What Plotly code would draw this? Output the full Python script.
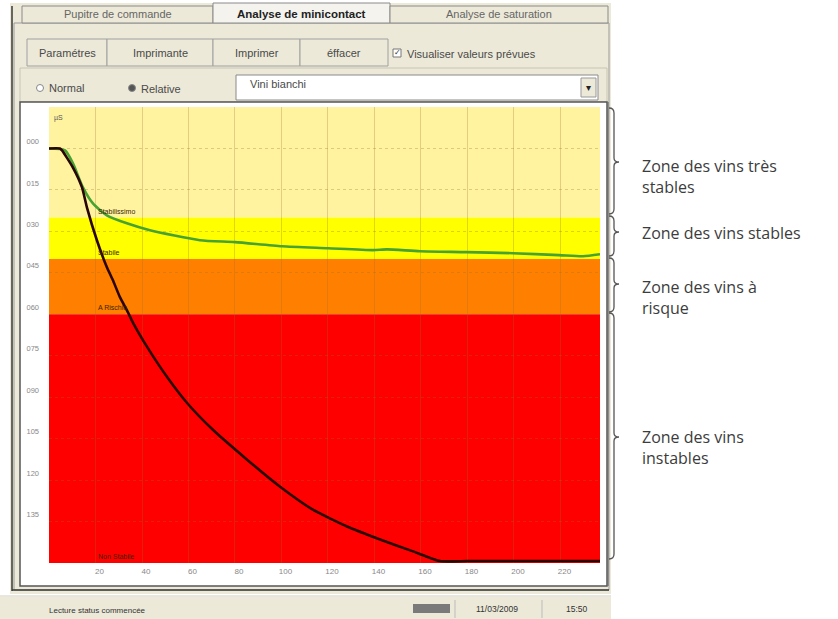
import plotly.graph_objects as go

# ---------------- data ----------------
time_measured = [0, 4.7, 5.6, 10.3, 14.2, 16.3, 20.6, 24.9, 27.5, 30.5, 33.5, 36.1, 42.2,
                 50.8, 59.4, 70.5, 85.2, 99.4, 113.5, 128.2, 142.4, 156.6, 168.2, 180, 200, 220, 237]
value_measured = [0, 0, -0.7, -6.9, -14.1, -21.3, -33.2, -43.0, -47.7, -53.8, -58.5, -63.0, -71.8,
                  -82.7, -92.1, -101.8, -112.6, -122.4, -130.7, -136.8, -141.5, -145.8, -149.3,
                  -149.3, -149.3, -149.3, -149.3]

time_predicted = [0, 6.9, 10.3, 14.6, 18.9, 24.9, 33.5, 43.4, 64.9, 80, 100.2, 120, 139.4,
                  145.4, 159.6, 179.4, 199.6, 219.4, 229.7, 237]
value_predicted = [0, -0.7, -5.4, -14.1, -19.9, -24.2, -27.1, -29.6, -33.2, -33.9, -35.4, -36.1,
                   -36.8, -36.5, -37.2, -37.5, -37.9, -38.6, -39.0, -38.3]

zone_tops = [15, -25, -40, -60]
zone_bottoms = [-25, -40, -60, -150]
zone_names = ["Stabilissimo", "Stabile", "A Rischio", "Non Stabile"]
zone_notes = ["Zone des vins très<br>stables", "Zone des vins stables",
              "Zone des vins à<br>risque", "Zone des vins<br>instables"]

x_ticks = [20, 40, 60, 80, 100, 120, 140, 160, 180, 200, 220]
y_ticks = [0, -15, -30, -45, -60, -75, -90, -105, -120, -135]
y_tick_text = ["000", "015", "030", "045", "060", "075", "090", "105", "120", "135"]

tab_labels = ["Pupitre de commande", "Analyse de minicontact", "Analyse de saturation"]
button_labels = ["Paramétres", "Imprimante", "Imprimer", "éffacer"]
check_label = "Visualiser valeurs prévues"
radio_labels = ["Normal", "Relative"]
wine_type = "Vini bianchi"
status_texts = ["Lecture status commencée", "11/03/2009", "15:50"]
unit_label = "µS"

# ---------------- styles ----------------
zone_colors = ["#FFF3A0", "#FFFF00", "#FF8000", "#FF0000"]
UI_BG = "#ECE9D8"
UI_TXT = "#4a4a4a"
FONT = "Liberation Sans"

L, R, T, B = 49, 600, 107, 563
W, H = 838, 619


def px(x):
    return (x - L) / (R - L)


def py(y):
    return (B - y) / (B - T)


shapes = []
annotations = []


def rect(x0, y0, x1, y1, fill=None, line=None, lw=1, layer="below"):
    shapes.append(dict(type="rect", xref="paper", yref="paper",
                       x0=px(x0), x1=px(x1), y0=py(y1), y1=py(y0),
                       fillcolor=fill if fill else "rgba(0,0,0,0)",
                       line=dict(color=line if line else "rgba(0,0,0,0)", width=lw if line else 0),
                       layer=layer))


def seg(x0, y0, x1, y1, color, lw=1, layer="below"):
    shapes.append(dict(type="line", xref="paper", yref="paper",
                       x0=px(x0), x1=px(x1), y0=py(y0), y1=py(y1),
                       line=dict(color=color, width=lw), layer=layer))


def circ(cx, cy, r, fill, line):
    shapes.append(dict(type="circle", xref="paper", yref="paper",
                       x0=px(cx - r), x1=px(cx + r), y0=py(cy + r), y1=py(cy - r),
                       fillcolor=fill, line=dict(color=line, width=1), layer="above"))


def text(x, y, s, size=11, color=UI_TXT, anchor="left", bold=False, family=FONT):
    if bold:
        s = "<b>" + s + "</b>"
    annotations.append(dict(xref="paper", yref="paper", x=px(x), y=py(y), text=s,
                            showarrow=False, xanchor=anchor, yanchor="middle",
                            font=dict(size=size, color=color, family=family)))


def brace(xv, y0, y1, ym, color="#555555"):
    path = (f"M {px(xv - 5)},{py(y0)} Q {px(xv)},{py(y0)} {px(xv)},{py(y0 + 5)} "
            f"L {px(xv)},{py(ym - 4)} Q {px(xv)},{py(ym)} {px(xv + 5)},{py(ym)} "
            f"Q {px(xv)},{py(ym)} {px(xv)},{py(ym + 4)} "
            f"L {px(xv)},{py(y1 - 5)} Q {px(xv)},{py(y1)} {px(xv - 5)},{py(y1)}")
    shapes.append(dict(type="path", xref="paper", yref="paper", path=path,
                       line=dict(color=color, width=1.3), layer="above"))


# ---------------- window / UI ----------------
rect(10, 3, 611, 594, fill=UI_BG)
rect(14, 23, 609, 590, line="#9a9a9a")
seg(12, 6, 12, 591, "#3a3a3a", 1.5)
seg(12, 590, 609, 590, "#3a3a3a", 1.5)

# tabs
tab_x = [(22, 213), (213, 390), (390, 608)]
for i, (a, b) in enumerate(tab_x):
    top = 3 if i == 1 else 6
    rect(a, top, b, 23, fill="#F4F3EE" if i == 1 else UI_BG, line="#8a8a8a")
    text((a + b) / 2, 14, tab_labels[i], size=11.5 if i == 1 else 11, anchor="center",
         bold=(i == 1), color="#222" if i == 1 else "#666")

# buttons
btn_x = [(27, 107), (107, 213), (213, 300), (300, 388)]
for (a, b), lab in zip(btn_x, button_labels):
    rect(a, 39, b, 66, fill=UI_BG, line="#a0a0a0")
    text((a + b) / 2, 53, lab, size=11, anchor="center")
rect(393, 49, 401, 57, fill="white", line="#777")
text(397, 53, "✓", size=8, anchor="center", color="#333")
text(405, 54, check_label, size=11)

# radio row
rect(20, 68, 607, 102, line="#c8c5b5")
circ(40, 88, 3.5, "white", "#888")
text(47, 88, radio_labels[0], size=11)
circ(132, 88, 3.5, "#555", "#888")
text(139, 89, radio_labels[1], size=11)
rect(236, 75, 598, 100, fill="white", line="#8a8a8a")
text(248, 84, wine_type, size=11)
rect(581, 78, 596, 97, fill=UI_BG, line="#999")
text(588.5, 87, "▾", size=10, anchor="center", color="#222")

# chart panel
rect(20, 102, 607, 586, fill="white", line="#555", lw=1.5)

# status bar
rect(0, 597, 611, 619, fill=UI_BG)
seg(0, 596, 611, 596, "#d0cdbd", 1)
text(47, 610, status_texts[0], size=8, color="#333")
rect(413, 604, 450, 613, fill="#7a7a7a")
seg(455, 600, 455, 618, "#bbb", 1)
text(497, 609, status_texts[1], size=8.5, anchor="center", color="#333")
seg(542, 600, 542, 618, "#bbb", 1)
text(577, 609, status_texts[2], size=8.5, anchor="center", color="#333")

# ---------------- chart ----------------
fig = go.Figure()

for top, bot, col in zip(zone_tops, zone_bottoms, zone_colors):
    shapes.append(dict(type="rect", xref="x", yref="y", x0=0, x1=240, y0=bot, y1=top,
                       fillcolor=col, line=dict(width=0), layer="below"))

for name, bot in zip(zone_names, zone_bottoms):
    annotations.append(dict(xref="x", yref="y", x=20, y=bot, text=name, showarrow=False,
                            xanchor="left", yanchor="bottom", yshift=1,
                            font=dict(size=7, color="#3a2500", family=FONT)))

annotations.append(dict(xref="x", yref="y", x=1.5, y=11, text=unit_label, showarrow=False,
                        xanchor="left", yanchor="middle",
                        font=dict(size=7, color="#555", family=FONT)))

fig.add_trace(go.Scatter(x=time_predicted, y=value_predicted, mode="lines",
                         line=dict(color="#46a231", width=2.6, shape="spline", smoothing=0.6),
                         hoverinfo="skip", showlegend=False))
fig.add_trace(go.Scatter(x=time_measured, y=value_measured, mode="lines",
                         line=dict(color="#2a0600", width=2.6, shape="spline", smoothing=0.5),
                         hoverinfo="skip", showlegend=False))

# right-hand braces and notes
brace_px = [(108, 214, 162), (216, 256, 232), (258, 312, 284), (313, 559, 437)]
note_y = [176, 233, 297, 447]
for (a, b, m), ny, note in zip(brace_px, note_y, zone_notes):
    brace(614, a, b, m)
    annotations.append(dict(xref="paper", yref="paper", x=px(640), y=py(ny), text=note,
                            showarrow=False, xanchor="left", yanchor="middle", align="left",
                            font=dict(size=16, color="#3c3c3c", family="Open Sans")))
seg(608, 102, 608, 586, "#6a6a6a", 1.2, layer="above")

fig.update_layout(
    width=W, height=H,
    margin=dict(l=L, r=W - R, t=T, b=H - B),
    paper_bgcolor="white", plot_bgcolor="white",
    shapes=shapes, annotations=annotations,
    showlegend=False,
    xaxis=dict(range=[0, 237], tickvals=x_ticks, showgrid=True,
               gridcolor="rgba(150,110,40,0.28)", gridwidth=1, zeroline=False,
               showline=False, ticks="", ticklabelshift=4, ticklabelstandoff=2,
               tickfont=dict(size=8, color="#888", family=FONT)),
    yaxis=dict(range=[-150, 15], tickvals=y_ticks, ticktext=y_tick_text, showgrid=True,
               gridcolor="rgba(150,110,40,0.3)", griddash="dot", gridwidth=1, zeroline=False,
               showline=False, ticks="", ticklabelshift=-7, ticklabelstandoff=9,
               tickfont=dict(size=7.5, color="#888", family=FONT)),
)

fig.write_html("out.html", config={"displayModeBar": False},
               post_script="document.body.style.margin='0';document.body.style.overflow='hidden';")
